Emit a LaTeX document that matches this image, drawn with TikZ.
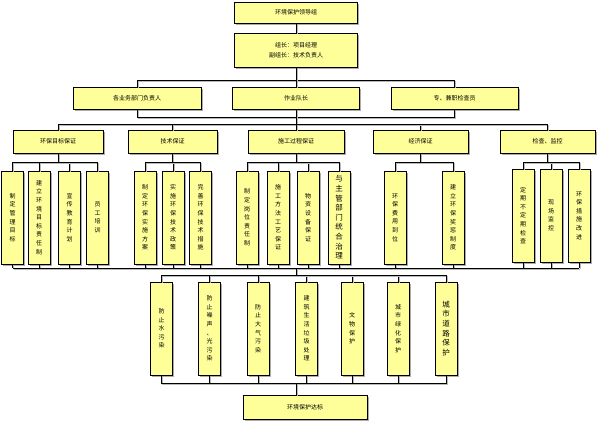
\documentclass[tikz,border=0pt]{standalone}
\usepackage{fontspec}
\setmainfont{Noto Sans CJK SC}
\usetikzlibrary{shadows}
\definecolor{boxfill}{RGB}{255,255,153}

\begin{document}
\begin{tikzpicture}[x=1pt, y=-1pt,
  box/.style={draw=black, line width=0.8pt, fill=boxfill, inner sep=0pt, align=center,
    font=\fontsize{6}{8}\selectfont,
    drop shadow={shadow xshift=1.6pt, shadow yshift=-1.6pt, fill=gray!65, opacity=1}},
  hbox/.style={box, minimum height=23pt},
  vbox/.style={box, minimum width=22pt, minimum height=93pt, font=\fontsize{6}{8.6}\selectfont},
  bigtext/.style={font=\fontsize{7.5}{9.6}\selectfont},
  conn/.style={draw=black, line width=0.7pt,
    preaction={draw=gray!55, line width=1pt, transform canvas={shift={(1.2pt,-1.2pt)}}}}]
  \useasboundingbox (0,0) rectangle (597,421);

  % leading group
  \node[hbox, minimum width=123pt, minimum height=21pt] (lead) at (296,12.5) {环境保护领导组};
  \node[box, minimum width=123pt, minimum height=34pt, font=\fontsize{6}{10}\selectfont] (head) at (296,50)
    {组长：项目经理\\副组长：技术负责人};

  % responsible persons
  \node[hbox, minimum width=128pt, minimum height=22pt] (dA) at (137,98) {各业务部门负责人};
  \node[hbox, minimum width=127pt, minimum height=22pt] (dB) at (296,98) {作业队长};
  \node[hbox, minimum width=127pt, minimum height=22pt] (dC) at (454.5,98) {专、兼职检查员};

  % guarantees
  \node[hbox, minimum width=90pt] (g1) at (58,141.5) {环保目标保证};
  \node[hbox, minimum width=89pt] (g2) at (172.5,141.5) {技术保证};
  \node[hbox, minimum width=96pt] (g3) at (296,141.5) {施工过程保证};
  \node[hbox, minimum width=95pt] (g4) at (420.5,141.5) {经济保证};
  \node[hbox, minimum width=95pt] (g5) at (547.5,141.5) {检查、监控};

  % measures
  \node[vbox] (a1) at (12.5,217.5) {制\\定\\管\\理\\目\\标};
  \node[vbox] (a2) at (39,217.5) {建\\立\\环\\境\\目\\标\\责\\任\\制};
  \node[vbox] (a3) at (69.5,217.5) {宣\\传\\教\\育\\计\\划};
  \node[vbox] (a4) at (97.5,217.5) {员\\工\\培\\训};
  \node[vbox] (b1) at (145,217.5) {制\\定\\环\\保\\实\\施\\方\\案};
  \node[vbox] (b2) at (173,217.5) {实\\施\\环\\保\\技\\术\\政\\策};
  \node[vbox] (b3) at (200.5,217.5) {完\\善\\环\\保\\技\\术\\措\\施};
  \node[vbox] (c1) at (247,217.5) {制\\定\\岗\\位\\责\\任\\制};
  \node[vbox] (c2) at (278,217.5) {施\\工\\方\\法\\工\\艺\\保\\证};
  \node[vbox] (c3) at (308,217.5) {物\\资\\设\\备\\保\\证};
  \node[vbox, bigtext] (c4) at (339,217.5) {与\\主\\管\\部\\门\\统\\合\\治\\理};
  \node[vbox] (d1) at (395,217.5) {环\\保\\费\\用\\到\\位};
  \node[vbox] (d2) at (453,217.5) {建\\立\\环\\保\\奖\\惩\\制\\度};
  \node[vbox] (e1) at (523,215.5) {定\\期\\不\\定\\期\\检\\查};
  \node[vbox] (e2) at (551,215.5) {现\\场\\监\\控};
  \node[vbox] (e3) at (579,215.5) {环\\保\\措\\施\\改\\进};

  % pollution control
  \node[vbox] (f1) at (161.5,328.5) {防\\止\\水\\污\\染};
  \node[vbox] (f2) at (209.5,328.5) {防\\止\\噪\\声\\、\\光\\污\\染};
  \node[vbox] (f3) at (258,328.5) {防\\止\\大\\气\\污\\染};
  \node[vbox] (f4) at (306.5,328.5) {建\\筑\\生\\活\\垃\\圾\\处\\理};
  \node[vbox] (f5) at (352,328.5) {文\\物\\保\\护};
  \node[vbox] (f6) at (398,328.5) {城\\市\\绿\\化\\保\\护};
  \node[vbox, bigtext] (f7) at (446,328.5) {城\\市\\道\\路\\保\\护};

  \node[hbox, minimum width=124pt, minimum height=24pt] (goal) at (305,407) {环境保护达标};

  % connectors
  \draw[conn] (lead) -- (head);
  \draw[conn] (head.south) -- ++(0,13) -| (dA.north);
  \draw[conn] (head.south) ++(0,13) -| (dC.north);
  \draw[conn] (head) -- (dB);
  \draw[conn] (dA.south) -- ++(0,8) -| (dC.south);
  \draw[conn] (dB.south) -- ++(0,15) coordinate (busB);
  \foreach \g in {g1,g2,g3,g4,g5}
    \draw[conn] (busB) -| (\g.north);
  \foreach \g/\kids in {g1/{a1,a2,a3,a4}, g2/{b1,b2,b3}, g3/{c1,c2,c3,c4}, g4/{d1,d2}, g5/{e1,e2,e3}}
    \foreach \c in \kids
      \draw[conn] (\g.south) -- ++(0,8.5) -| (\c.north);
  \coordinate (busC) at (296,268);
  \foreach \c in {a1,a2,a3,a4,b1,b2,b3,c1,c2,c3,c4,d1,d2,e1,e2,e3}
    \draw[conn] (\c.south) -- (\c.south |- busC);
  \draw[conn] (a1.south |- busC) -- (e3.south |- busC);
  \draw[conn] (busC) -- ++(0,7) coordinate (busD);
  \coordinate (busE) at (296,383);
  \foreach \f in {f1,f2,f3,f4,f5,f6,f7} {
    \draw[conn] (busD) -| (\f.north);
    \draw[conn] (\f.south) |- (busE);
  }
  \draw[conn] (busE) -- (busE |- goal.north);
\end{tikzpicture}
\end{document}
